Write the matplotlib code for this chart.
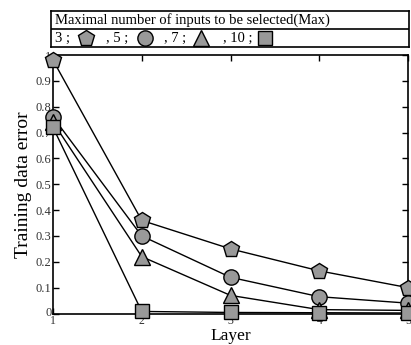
import matplotlib
matplotlib.use("Agg")
import matplotlib.pyplot as plt
import matplotlib.transforms as mtrans
import numpy as np

layers = [1, 2, 3, 4, 5]
err_max3 = [0.98, 0.36, 0.25, 0.165, 0.10]
err_max5 = [0.76, 0.30, 0.14, 0.065, 0.04]
err_max7 = [0.74, 0.22, 0.07, 0.015, 0.012]
err_max10 = [0.72, 0.008, 0.004, 0.003, 0.002]
max_labels = ["3 ;", ", 5 ;", ", 7 ;", ", 10 ;"]
markers = ["p", "o", "^", "s"]
msizes = [12, 11, 12, 10]

plt.rcParams['font.family'] = ['Liberation Serif', 'DejaVu Serif']

fig = plt.figure(figsize=(4.11, 3.45), dpi=100)
ax_bottom_px = 345 - 313.5
ax = fig.add_axes([53/411, ax_bottom_px/345, 355/411, 258.5/345])

series = [err_max3, err_max5, err_max7, err_max10]
for ys, m, ms in zip(series, markers, msizes):
    ax.plot(layers, ys, color="black", lw=1.0, marker=m, markersize=ms,
            markerfacecolor="#999999", markeredgecolor="black",
            markeredgewidth=1.0, clip_on=False, zorder=5)

ax.set_xlim(1, 5)
ax.set_ylim(0, 1)
ax.set_xticks(layers)
ax.set_yticks(np.arange(0, 1.01, 0.1))
ax.set_yticklabels(["0"] + ["%.1f" % v for v in np.arange(0.1, 0.95, 0.1)] + ["1"])
ax.tick_params(direction="in", top=True, right=True, length=4, width=1,
               labelsize=9, pad=1, labelcolor="#333333")
ax.tick_params(axis="x", pad=1, labelsize=8.5)
# nudge the "0" up a little so it clears the "1" under the corner
ylabs = ax.get_yticklabels()
ylabs[0].set_transform(ylabs[0].get_transform() +
                       mtrans.ScaledTranslation(0, 2/100, fig.dpi_scale_trans))
for s in ax.spines.values():
    s.set_linewidth(1.2)
ax.set_xlabel("Layer", fontsize=12.5, va="bottom")
ax.xaxis.set_label_coords(0.5, (1.5 - ax_bottom_px) / 258.5)
ax.set_ylabel("Training data error", fontsize=14, labelpad=3)

# legend box drawn as a small table above the plot
lax = fig.add_axes([51/411, 1 - 46.7/345, 358/411, 36/345])
lax.set_xlim(0, 358)
lax.set_ylim(36, 0)
lax.set_xticks([])
lax.set_yticks([])
for s in lax.spines.values():
    s.set_linewidth(1.2)
lax.axhline(18.3, color="black", lw=1.2)
lax.text(4, 9.5, "Maximal number of inputs to be selected(Max)", fontsize=10.5,
         va="center", ha="left")
text_x = [4, 55, 113, 172]
mark_x = [35, 94, 150, 214]
for lab, tx, mx, m, ms in zip(max_labels, text_x, mark_x, markers, msizes):
    lax.text(tx, 27.8, lab, fontsize=10.5, va="center", ha="left")
    lax.plot([mx], [27.5], marker=m, markersize=ms, linestyle="none",
             markerfacecolor="#999999", markeredgecolor="black",
             markeredgewidth=1.0, clip_on=False)

fig.savefig("out.png", dpi=100)
